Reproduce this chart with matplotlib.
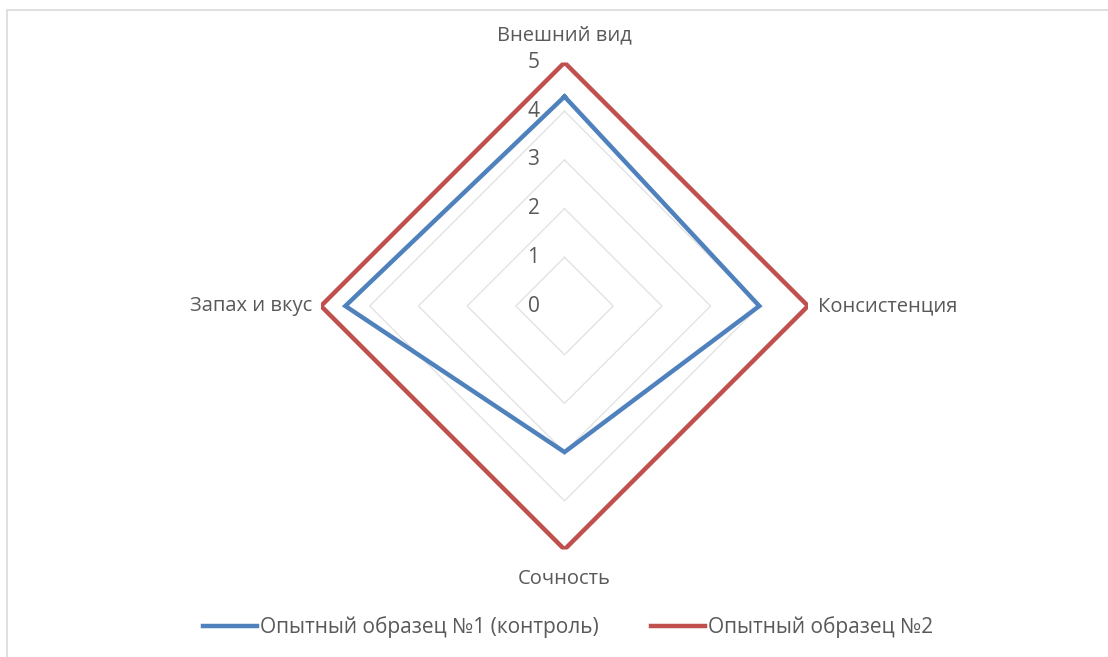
import numpy as np
import matplotlib
matplotlib.use("Agg")
import matplotlib.pyplot as plt
from matplotlib.patches import Rectangle
import matplotlib.transforms as mtransforms

categories = ["Внешний вид", "Консистенция", "Сочность", "Запах и вкус"]
series1_name = "Опытный образец №1 (контроль)"
series1 = [4.3, 4.0, 3.0, 4.5]
series2_name = "Опытный образец №2"
series2 = [5.0, 5.0, 5.0, 5.0]
ticks = [0, 1, 2, 3, 4, 5]

plt.rcParams['font.family'] = ['Open Sans', 'DejaVu Sans']
TXT = "#595959"
BLUE = "#4f81bd"
RED = "#c0504d"
GRID = "#e3e3e3"

W, H = 1108, 657
fig = plt.figure(figsize=(W / 100, H / 100), dpi=100)
fig.patch.set_facecolor("white")

# outer frame (left/top visible)
fig.add_artist(Rectangle((7 / W, -0.05), 1.2, 1 - 10 / H + 0.05, transform=fig.transFigure,
                         fill=False, edgecolor="#d9d9d9", lw=1.2))

cx, cy, R = 564.5, 306, 243.5
ax = fig.add_axes([(cx - R) / W, 1 - (cy + R) / H, 2 * R / W, 2 * R / H], projection="polar")
ax.set_theta_offset(np.pi / 2)
ax.set_theta_direction(-1)
ax.set_ylim(0, 5)
ax.grid(False)
ax.spines['polar'].set_visible(False)
ax.set_xticks([])
ax.set_yticks([])
ax.patch.set_alpha(0)

n = len(categories)
ang = np.arange(n) * 2 * np.pi / n
angc = np.concatenate([ang, ang[:1]])

for t in ticks[1:]:
    ax.plot(angc, [t] * (n + 1), color=GRID, lw=1, zorder=1)

for vals, col, name in [(series1, BLUE, series1_name), (series2, RED, series2_name)]:
    v = list(vals) + [vals[0]]
    ax.plot(angc, v, color=col, lw=3.2, solid_joinstyle='miter', label=name, zorder=3)

# radial tick labels
off = mtransforms.offset_copy(ax.transData, fig=fig, x=-31, y=0, units='dots')
for t in ticks:
    ax.text(0, t, str(t), transform=off, ha='center', va='center', fontsize=15, color=TXT)

# category labels
offs = [(0, 27, 'center', 'center'), (10, 0, 'left', 'center'),
        (0, -29, 'center', 'center'), (-9, 0, 'right', 'center')]
for a, c, (dx, dy, ha, va) in zip(ang, categories, offs):
    tr = mtransforms.offset_copy(ax.transData, fig=fig, x=dx, y=dy, units='dots')
    ax.text(a, 5, c, transform=tr, ha=ha, va=va, fontsize=14.5, color=TXT)

leg = fig.legend(loc='center', bbox_to_anchor=(568 / W, 1 - 627 / H), ncol=2, frameon=False,
                 fontsize=15, handlelength=2.6, handletextpad=0.15, columnspacing=2.5,
                 labelcolor=TXT)

fig.savefig("out.png", dpi=100)
